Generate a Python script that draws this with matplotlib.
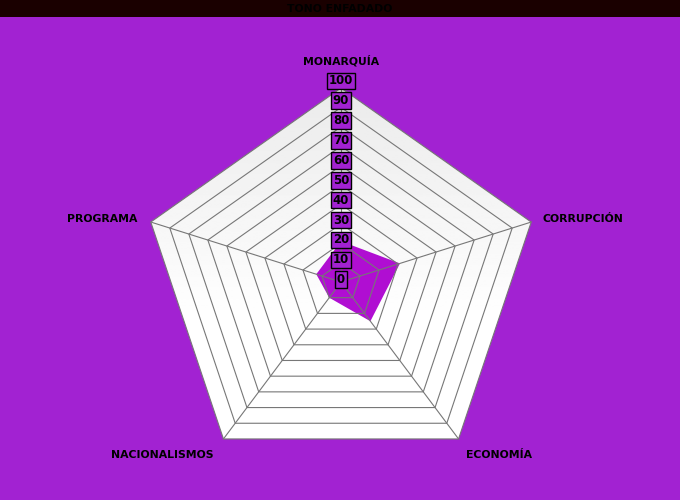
import numpy as np
import matplotlib
matplotlib.use("Agg")
import matplotlib.pyplot as plt
import matplotlib.patches as patches

# chart data
categories = ["MONARQUÍA", "CORRUPCIÓN", "ECONOMÍA", "NACIONALISMOS", "PROGRAMA"]
values = [21, 31, 25, 10, 13]
ticks = [0, 10, 20, 30, 40, 50, 60, 70, 80, 90, 100]
title = "TONO ENFADADO"

bg = "#a222d2"
fill = "#b00ed2"

W, H = 680, 500
cx, cy = 341, 282          # centre in pixels
sx, sy = 2.0, 1.94         # pixels per unit

fig = plt.figure(figsize=(W / 100, H / 100), dpi=100, facecolor=bg)
ax = fig.add_axes([0, 0, 1, 1])
ax.set_xlim(-cx / sx, (W - cx) / sx)
ax.set_ylim(-(H - cy) / sy, cy / sy)
ax.axis("off")
ax.set_facecolor(bg)

n = len(categories)
ang = np.pi / 2 - 2 * np.pi * np.arange(n) / n
ux, uy = np.cos(ang), np.sin(ang)

# outer pentagon with light gradient
rmax = ticks[-1]
outer = np.column_stack([rmax * ux, rmax * uy])
poly = patches.Polygon(outer, closed=True, fc="none", ec="none")
ax.add_patch(poly)
s = np.linspace(0, 1, 256)
grad = np.clip(np.where(s < 0.6, 0.92 + 0.08 * s / 0.6, 1.0), 0, 1).reshape(-1, 1)
img = ax.imshow(grad, cmap="gray", vmin=0, vmax=1, aspect="auto",
                extent=(-rmax, rmax, -rmax, rmax), origin="upper", zorder=1)
img.set_clip_path(poly)

# data polygon
vx = np.array(values) * ux
vy = np.array(values) * uy
ax.fill(vx, vy, color=fill, lw=0, zorder=2)

# rings and spokes
for t in ticks[1:]:
    ax.plot(np.append(t * ux, t * ux[0]), np.append(t * uy, t * uy[0]),
            color="#777777", lw=0.8, zorder=3)
for i in range(n):
    ax.plot([0, rmax * ux[i]], [0, rmax * uy[i]], color="#777777", lw=0.8, zorder=3)

# tick labels on the vertical axis
for t in ticks:
    ax.text(0, t * 1.025 + 1.2, str(t), ha="center", va="center", fontsize=8.5,
            fontweight="heavy", color="black", zorder=5,
            bbox=dict(boxstyle="square,pad=0.15", fc=bg, ec="black", lw=1.0))

# category labels
offs = [(0, 27, "center"), (11, 3, "left"), (7, -16, "left"),
        (-10, -16, "right"), (-13, 3, "right")]
for i, lab in enumerate(categories):
    dx, dy, ha = offs[i]
    ax.annotate(lab, (rmax * ux[i], rmax * uy[i]), xytext=(dx * 0.72, dy * 0.72),
                textcoords="offset points", ha=ha, va="center", fontsize=7.8,
                fontweight="heavy", color="black", zorder=6)

# title bar
fig.patches.append(patches.Rectangle((0, 1 - 17 / H), 1, 17 / H, transform=fig.transFigure,
                                     fc="#1a0000", ec="none", zorder=0))
fig.text(0.5, 1 - 8.5 / H, title, ha="center", va="center", fontsize=7.8,
         fontweight="heavy", color="black")

fig.savefig("out.png", dpi=100, facecolor=bg)
